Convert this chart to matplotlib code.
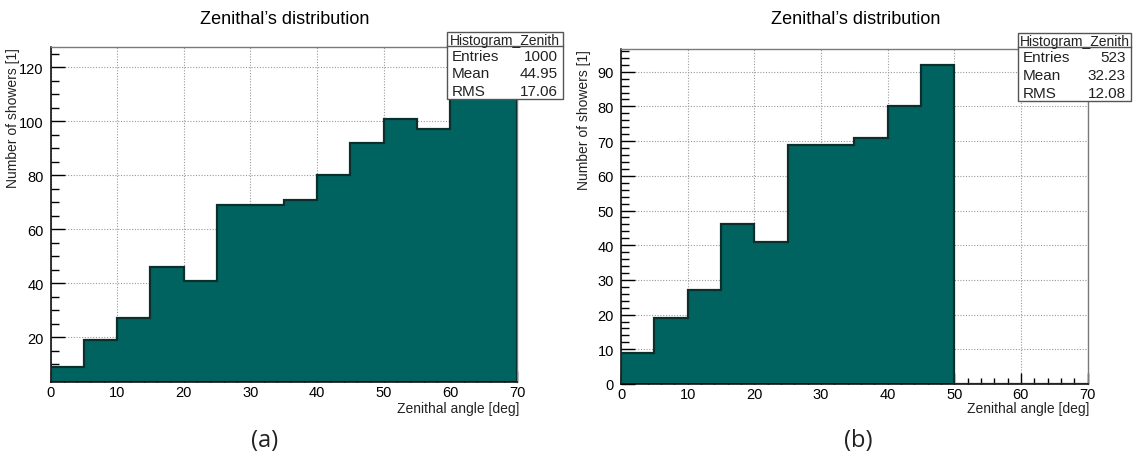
import numpy as np
import matplotlib.pyplot as plt
from matplotlib.patches import Rectangle
from matplotlib.lines import Line2D
from matplotlib.ticker import MultipleLocator

W, H = 1133, 460

bin_edges = np.arange(0, 75, 5)
showers_all = [9, 19, 27, 46, 41, 69, 69, 71, 80, 92, 101, 97, 115, 122]
showers_cut = [9, 19, 27, 46, 41, 69, 69, 71, 80, 92, 0, 0, 0, 0]

stats_all = [("Entries", "1000"), ("Mean", "44.95"), ("RMS", "17.06")]
stats_cut = [("Entries", "523"), ("Mean", "32.23"), ("RMS", "12.08")]

FILL = "#00635f"
LINE = "#0b2f2d"

plt.rcParams["font.family"] = ["Liberation Sans", "DejaVu Sans"]

fig = plt.figure(figsize=(W / 100, H / 100), dpi=100)


def fx(x):
    return x / W


def fy(y):
    return 1 - y / H


def root_range(counts):
    # same auto range ROOT picks: 5% margin, clamped at zero
    lo, hi = min(counts), max(counts)
    pad = 0.05 * (hi - lo)
    ymin = lo - pad
    if lo >= 0 and ymin < 0:
        ymin = 0
    return ymin, hi + pad


def draw_panel(frame, counts, stats, box, ymajor, yminor, tag, tag_x):
    x0, y0, x1, y1 = frame
    ax = fig.add_axes([fx(x0), fy(y1), (x1 - x0) / W, (y1 - y0) / H])
    ax.stairs(counts, bin_edges, fill=True, color=FILL, zorder=2)
    ax.stairs(counts, bin_edges, color=LINE, lw=1.6, baseline=0, zorder=3)

    ax.set_xlim(0, 70)
    ax.set_ylim(*root_range(counts))
    ax.xaxis.set_major_locator(MultipleLocator(10))
    ax.xaxis.set_minor_locator(MultipleLocator(2))
    ax.yaxis.set_major_locator(MultipleLocator(ymajor))
    ax.yaxis.set_minor_locator(MultipleLocator(yminor))
    ax.tick_params(which="both", direction="in", top=False, right=False,
                   labelsize=10.5, colors="black", width=1)
    ax.tick_params(axis="y", which="major", length=10, pad=5)
    ax.tick_params(axis="y", which="minor", length=5.5)
    ax.tick_params(axis="x", which="major", length=8, pad=2)
    ax.tick_params(axis="x", which="minor", length=4)

    ax.set_axisbelow(True)
    ax.grid(True, which="major", ls=(0, (1, 1.5)), color="#9a9a9a", lw=0.8)
    for side in ("left", "bottom"):
        ax.spines[side].set_color("black")
        ax.spines[side].set_linewidth(1.1)
    for side in ("top", "right"):
        ax.spines[side].set_color("#7a7a7a")
        ax.spines[side].set_linewidth(1.0)

    # axis titles sit at the far end of each axis
    fig.text(fx(x0 - 37), fy(y0), "Number of showers [1]", rotation=90, ha="center",
             va="top", fontsize=10, color="#222")
    fig.text(fx(x1 + 2), fy(402), "Zenithal angle [deg]", ha="right", va="top",
             fontsize=10, color="#222")

    cx = (x0 + x1) / 2
    fig.text(fx(cx + 1), fy(20), "Zenithal\u2019s distribution", ha="center", va="center",
             fontsize=13)
    fig.text(fx(tag_x), fy(441), tag, ha="center", va="center", fontsize=17,
             family=["Open Sans", "DejaVu Sans"], color="#222")

    # stats box
    bx0, by0, bx1, by1 = box
    hdr = 14
    fig.add_artist(Rectangle((fx(bx0), fy(by1)), (bx1 - bx0) / W, (by1 - by0) / H,
                             transform=fig.transFigure, facecolor="white",
                             edgecolor="#555", lw=1.0, zorder=5))
    fig.add_artist(Line2D([fx(bx0), fx(bx1)], [fy(by0 + hdr), fy(by0 + hdr)],
                          transform=fig.transFigure, color="#555", lw=1.0, zorder=6))
    fig.text(fx((bx0 + bx1) / 2), fy(by0 + hdr / 2 + 1), "Histogram_Zenith", ha="center",
             va="center", fontsize=10, zorder=7, color="#222")
    row_h = (by1 - by0 - hdr) / len(stats)
    for i, (name, val) in enumerate(stats):
        yy = by0 + hdr + row_h * (i + 0.5) + 1
        fig.text(fx(bx0 + 5), fy(yy), name, ha="left", va="center", fontsize=11,
                 zorder=7, color="#222")
        fig.text(fx(bx1 - 5), fy(yy), val, ha="right", va="center", fontsize=11,
                 zorder=7, color="#222")
    return ax


draw_panel((50.5, 47.7, 517, 383.3), showers_all, stats_all, (447, 33, 563, 100),
           20, 5, "(a)", 265)
draw_panel((621, 49.8, 1087.5, 385), showers_cut, stats_cut, (1018, 34, 1131, 102),
           10, 2, "(b)", 858)

fig.savefig("out.png", dpi=100)
